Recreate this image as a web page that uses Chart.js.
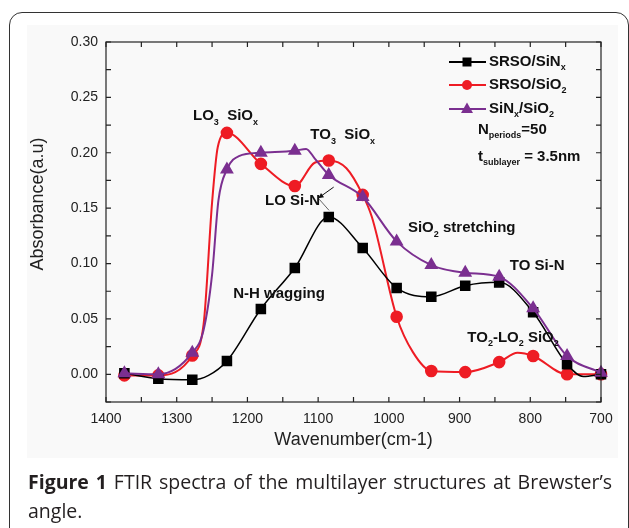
<!DOCTYPE html>
<html>
<head>
<meta charset="utf-8">
<script src="https://cdn.jsdelivr.net/npm/chart.js@4.4.0/dist/chart.umd.min.js"></script>
<style>
body{margin:0;background:#fff;width:629px;height:528px;overflow:hidden;position:relative}
#frame{position:absolute;left:9px;top:12px;width:620px;height:560px;border:1.5px solid #333;border-radius:13px;box-sizing:border-box}
#panel{position:absolute;left:27px;top:25px;width:591px;height:433px;background:#f9f9f9}
#chart{position:absolute;left:0;top:0}
#caption{position:absolute;left:28px;top:467px;width:584px;font:19.5px "Open Sans",sans-serif;line-height:29px;color:#231f20;text-align:justify}
</style>
</head>
<body>
<div id="frame"></div>
<div id="panel"></div>
<canvas id="chart" width="629" height="528"></canvas>
<div id="caption"><b>Figure 1</b> FTIR spectra of the multilayer structures at Brewster’s angle.</div>
<script>
// wavenumbers where the symbols sit
var markWn = [1374, 1326, 1278, 1229, 1181, 1133, 1085, 1037, 989, 940, 892, 844, 796, 748, 700];

// SRSO/SiNx
var srsoSinWn = [1374, 1326, 1278, 1255, 1229, 1181, 1133, 1085, 1037, 989, 940, 892, 844, 796, 748, 725, 700];
var srsoSinAbs = [0.001, -0.004, -0.005, -0.001, 0.012, 0.059, 0.096, 0.142, 0.114, 0.078, 0.070, 0.080, 0.083, 0.056, 0.009, -0.002, 0.000];

// SRSO/SiO2
var srsoSioWn = [1374, 1326, 1278, 1262, 1250, 1242, 1229, 1181, 1133, 1105, 1085, 1060, 1037, 1024, 989, 966, 940, 892, 844, 818, 796, 748, 700];
var srsoSioAbs = [-0.001, -0.001, 0.017, 0.045, 0.155, 0.205, 0.218, 0.190, 0.170, 0.191, 0.193, 0.186, 0.162, 0.142, 0.052, 0.020, 0.003, 0.002, 0.011, 0.0195, 0.0165, 0.000, 0.000];

// SiNx/SiO2
var sinSioWn = [1374, 1326, 1278, 1262, 1250, 1241, 1229, 1212, 1181, 1133, 1117, 1105, 1085, 1037, 989, 940, 892, 844, 796, 748, 700];
var sinSioAbs = [0.001, 0.000, 0.0195, 0.04, 0.09, 0.157, 0.185, 0.197, 0.200, 0.2018, 0.2035, 0.195, 0.180, 0.160, 0.120, 0.0986, 0.0917, 0.088, 0.0596, 0.0165, 0.0015];

// text labels, placed at (wavenumber, absorbance); [text, isSubscript]
var notes = [
  {wn: 1277, abs: 0.233, parts: [['LO'], ['3', 1], ['  SiO'], ['x', 1]]},
  {wn: 1111, abs: 0.216, parts: [['TO'], ['3', 1], ['  SiO'], ['x', 1]]},
  {wn: 1175, abs: 0.157, parts: [['LO Si-N']]},
  {wn: 1220, abs: 0.0725, parts: [['N-H wagging']]},
  {wn: 973, abs: 0.132, parts: [['SiO'], ['2', 1], [' stretching']]},
  {wn: 829, abs: 0.098, parts: [['TO Si-N']]},
  {wn: 889, abs: 0.033, parts: [['TO'], ['2', 1], ['-LO'], ['2', 1], [' SiO'], ['2', 1]]}
];

var legendParts = [
  [['SRSO/SiN'], ['x', 1]],
  [['SRSO/SiO'], ['2', 1]],
  [['SiN'], ['x', 1], ['/SiO'], ['2', 1]]
];

function toXY(wn, abs) {
  var out = [];
  for (var i = 0; i < wn.length; i++) out.push({x: wn[i], y: abs[i]});
  return out;
}

var FONT = '"Liberation Sans", Arial, sans-serif';

function drawParts(ctx, x, y, parts, size) {
  var cx = x;
  parts.forEach(function(p) {
    var sub = p[1];
    ctx.font = 'bold ' + (sub ? Math.round(size * 0.62) : size) + 'px ' + FONT;
    ctx.fillText(p[0], cx, sub ? y + size * 0.4 : y);
    cx += ctx.measureText(p[0]).width;
  });
  return cx;
}

function marker(ctx, style, x, y, color) {
  ctx.fillStyle = color;
  ctx.beginPath();
  if (style == 'rect') {
    ctx.rect(x - 4.5, y - 4.5, 9, 9);
  } else if (style == 'circle') {
    ctx.arc(x, y, 5, 0, Math.PI * 2);
  } else {
    ctx.moveTo(x, y - 6.5);
    ctx.lineTo(x + 6, y + 4);
    ctx.lineTo(x - 6, y + 4);
    ctx.closePath();
  }
  ctx.fill();
}

var colors = ['#000000', '#ee1c24', '#7b2f90'];
var styles = ['rect', 'circle', 'triangle'];

var framePlugin = {
  id: 'frame',
  afterDraw: function(chart) {
    var ctx = chart.ctx;
    var a = chart.chartArea;
    var xs = chart.scales.x, ys = chart.scales.y;
    ctx.save();
    ctx.strokeStyle = '#222';
    ctx.lineWidth = 1.2;
    ctx.strokeRect(a.left, a.top, a.right - a.left, a.bottom - a.top);
    ctx.beginPath();
    for (var w = 700; w <= 1400; w += 50) {
      var px = xs.getPixelForValue(w);
      ctx.moveTo(px, a.bottom); ctx.lineTo(px, a.bottom - 5);
      ctx.moveTo(px, a.top); ctx.lineTo(px, a.top + 5);
    }
    for (var k = -1; k <= 12; k++) {
      var py = ys.getPixelForValue(k * 0.025);
      ctx.moveTo(a.left, py); ctx.lineTo(a.left + 5, py);
      ctx.moveTo(a.right, py); ctx.lineTo(a.right - 5, py);
    }
    ctx.stroke();

    // axis titles
    ctx.fillStyle = '#222';
    ctx.font = '18px ' + FONT;
    ctx.textAlign = 'center';
    ctx.textBaseline = 'middle';
    ctx.fillText('Wavenumber(cm-1)', (a.left + a.right) / 2, 440);
    ctx.save();
    ctx.translate(38, 204);
    ctx.rotate(-Math.PI / 2);
    ctx.fillText('Absorbance(a.u)', 0, 0);
    ctx.restore();

    // annotations
    ctx.textAlign = 'left';
    ctx.fillStyle = '#111';
    notes.forEach(function(n) {
      drawParts(ctx, xs.getPixelForValue(n.wn), ys.getPixelForValue(n.abs), n.parts, 15);
    });

    // arrow at LO Si-N
    var hx = xs.getPixelForValue(1100), hy = ys.getPixelForValue(0.159);
    var tx = xs.getPixelForValue(1078), ty = ys.getPixelForValue(0.169);
    ctx.strokeStyle = '#111';
    ctx.lineWidth = 1;
    ctx.beginPath();
    ctx.moveTo(tx, ty); ctx.lineTo(hx, hy);
    ctx.stroke();
    var ang = Math.atan2(hy - ty, hx - tx);
    ctx.beginPath();
    ctx.moveTo(hx, hy);
    ctx.lineTo(hx - 6 * Math.cos(ang - 0.45), hy - 6 * Math.sin(ang - 0.45));
    ctx.lineTo(hx - 6 * Math.cos(ang + 0.45), hy - 6 * Math.sin(ang + 0.45));
    ctx.closePath();
    ctx.fillStyle = '#111';
    ctx.fill();
    ctx.strokeStyle = '#666';
    ctx.beginPath();
    ctx.moveTo(hx + 1, hy + 1);
    ctx.lineTo(xs.getPixelForValue(1084.6), ys.getPixelForValue(0.148));
    ctx.stroke();

    // legend
    var rows = [62, 85, 109];
    for (var r = 0; r < 3; r++) {
      ctx.strokeStyle = colors[r];
      ctx.lineWidth = 2;
      ctx.beginPath();
      ctx.moveTo(449, rows[r]); ctx.lineTo(486, rows[r]);
      ctx.stroke();
      marker(ctx, styles[r], 467, rows[r], colors[r]);
      ctx.fillStyle = '#111';
      drawParts(ctx, 489, rows[r], legendParts[r], 15);
    }
    drawParts(ctx, 478, 130, [['N'], ['periods', 1], ['=50']], 15);
    drawParts(ctx, 478, 157, [['t'], ['sublayer', 1], [' = 3.5nm']], 15);
    ctx.restore();
  }
};

function ptRadius(r) {
  return function(c) {
    return (c.raw && markWn.indexOf(c.raw.x) >= 0) ? r : 0;
  };
}

new Chart(document.getElementById('chart'), {
  type: 'line',
  data: {
    datasets: [{
      label: 'SRSO/SiNx',
      data: toXY(srsoSinWn, srsoSinAbs),
      borderColor: colors[0],
      backgroundColor: colors[0],
      borderWidth: 1.5,
      pointStyle: 'rect',
      pointRadius: ptRadius(6.4),
      order: 1
    }, {
      label: 'SRSO/SiO2',
      data: toXY(srsoSioWn, srsoSioAbs),
      borderColor: colors[1],
      backgroundColor: colors[1],
      borderWidth: 2,
      pointStyle: 'circle',
      pointRadius: ptRadius(5.3),
      order: 2
    }, {
      label: 'SiNx/SiO2',
      data: toXY(sinSioWn, sinSioAbs),
      borderColor: colors[2],
      backgroundColor: colors[2],
      borderWidth: 2,
      pointStyle: 'triangle',
      pointRadius: ptRadius(6),
      order: 0
    }]
  },
  options: {
    responsive: false,
    animation: false,
    devicePixelRatio: 1,
    cubicInterpolationMode: 'monotone',
    clip: false,
    layout: {padding: {left: 46, right: 28, top: 42, bottom: 66}},
    plugins: {legend: {display: false}, tooltip: {enabled: false}},
    elements: {point: {borderWidth: 0, hoverRadius: 0}},
    scales: {
      x: {
        type: 'linear',
        reverse: true,
        min: 700,
        max: 1400,
        grid: {display: false, drawTicks: false},
        border: {display: false},
        afterFit: function(s) { s.height = 60; },
        ticks: {
          stepSize: 100,
          padding: 9,
          color: '#222',
          font: {family: FONT, size: 14},
          callback: function(v) { return String(v); }
        }
      },
      y: {
        min: -0.025,
        max: 0.30,
        grid: {display: false, drawTicks: false},
        border: {display: false},
        afterFit: function(s) { s.width = 60; },
        ticks: {
          stepSize: 0.05,
          padding: 8,
          color: '#222',
          font: {family: FONT, size: 14},
          callback: function(v) { return v < -0.001 ? null : v.toFixed(2); }
        }
      }
    }
  },
  plugins: [framePlugin]
});
</script>
</body>
</html>
